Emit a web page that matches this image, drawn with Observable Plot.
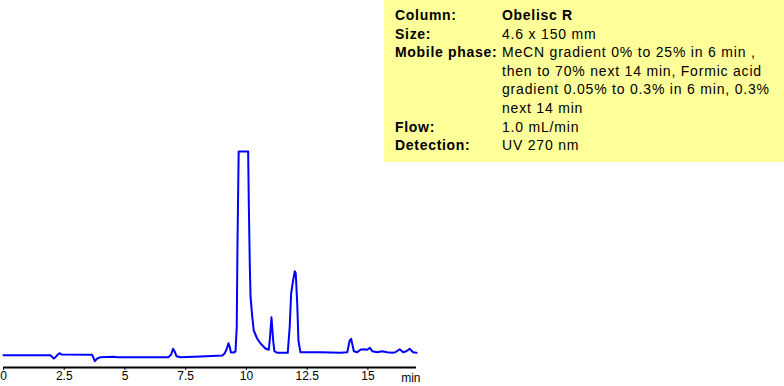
<!DOCTYPE html>
<html><head><meta charset="utf-8">
<script src="https://cdn.jsdelivr.net/npm/d3@7"></script>
<script src="https://cdn.jsdelivr.net/npm/@observablehq/plot@0.6"></script>
<style>
body{margin:0;background:#fff;}
#wrap{position:relative;width:784px;height:386px;font-family:"Liberation Sans",Arial,sans-serif;}
#chart svg{display:block;}
#info{position:absolute;left:384px;top:0;width:400px;height:162px;background:#ffff99;color:#000;}
.row{position:absolute;left:11px;height:18.6px;line-height:18.6px;white-space:nowrap;}
.lab{position:absolute;left:0;font-weight:bold;font-size:14px;letter-spacing:0.7px;}
.val{position:absolute;left:107px;font-size:14px;letter-spacing:0.8px;}
.val.b{font-weight:bold;font-size:14px;letter-spacing:0.7px;}
</style></head>
<body><div id="wrap"><div id="chart"></div><div id="info"></div></div>
<script>
// Retention time (min) and detector signal (arbitrary units)
const times = [0, 1.93, 2.07, 2.14, 2.24, 2.32, 2.39, 3.65, 3.76, 3.86, 3.99, 4.54, 4.68, 6.80, 6.90, 6.98, 7.04, 7.12, 7.29, 8.11, 9.01, 9.10, 9.18, 9.26, 9.32, 9.36, 9.47, 9.55, 9.60, 9.63, 9.68, 10.07, 10.10, 10.14, 10.17, 10.24, 10.30, 10.44, 10.58, 10.78, 10.92, 10.97, 11.03, 11.10, 11.15, 11.27, 11.70, 11.78, 11.84, 11.92, 11.99, 12.03, 12.09, 12.14, 12.22, 13.05, 13.87, 14.15, 14.25, 14.31, 14.37, 14.42, 14.56, 14.69, 14.83, 14.97, 15.08, 15.18, 15.38, 15.59, 15.79, 16.00, 16.13, 16.31, 16.45, 16.58, 16.72, 16.86, 17.00];
const signal = [12.3, 12.3, 9, 10.3, 13, 14.3, 13, 12.7, 6.3, 9, 10.3, 10.7, 10.3, 10.3, 13, 18.7, 16.3, 11.3, 10.3, 11, 12, 14, 18, 24.3, 20, 15, 15, 16, 40, 120, 216, 216, 160.3, 100.3, 70.3, 50.3, 37, 29, 24, 19, 17.7, 30, 50.3, 27, 16.3, 14.7, 14.7, 40.3, 74, 87, 96.3, 94, 64, 27, 15.3, 15.3, 14.7, 15.3, 27, 28.7, 22, 16.3, 15.3, 17.7, 18.3, 17.7, 19.7, 16.3, 15.3, 16.3, 15.3, 14.7, 15.3, 18.3, 15.3, 16.3, 18.7, 15.3, 14.7];
const xTicks = [0, 2.5, 5, 7.5, 10, 12.5, 15];
const xTickLabels = ["0", "2.5", "5", "7.5", "10", "12.5", "15"];
const xUnit = "min";
const infoLabels = ["Column:", "Size:", "Mobile phase:", "Flow:", "Detection:"];
const infoValues = [
  ["Obelisc R"],
  ["4.6 x 150 mm"],
  ["MeCN gradient 0% to 25% in 6 min ,", "then to 70% next 14 min, Formic acid", "gradient 0.05% to 0.3% in 6 min, 0.3%", "next 14 min"],
  ["1.0 mL/min"],
  ["UV 270 nm"]
];

const data = times.map((t, i) => ({t, v: signal[i]}));
const chart = Plot.plot({
  width: 784, height: 386,
  marginLeft: 3, marginRight: 368, marginTop: 151, marginBottom: 19,
  style: {fontFamily: "Liberation Sans, Arial, sans-serif", fontSize: "12px", color: "#000", background: "transparent", overflow: "visible"},
  x: {domain: [0, 17], ticks: xTicks, tickFormat: d => xTickLabels[xTicks.indexOf(d)], tickSize: 3, tickPadding: 1, label: null},
  y: {domain: [0, 216], axis: null},
  marks: [
    Plot.line(data, {x: "t", y: "v", stroke: "#0000ff", strokeWidth: 2}),
    Plot.ruleY([0], {stroke: "#000", strokeWidth: 2}),
    Plot.text([xUnit], {text: d => d, frameAnchor: "bottom-right", dx: 4, dy: 11, lineAnchor: "middle", textAnchor: "end", fontSize: 12, fill: "#000"})
  ]
});
document.getElementById("chart").appendChild(chart);

const info = document.getElementById("info");
let line = 0;
infoLabels.forEach((lab, i) => {
  const vals = infoValues[i];
  vals.forEach((v, j) => {
    const row = document.createElement("div");
    row.className = "row";
    row.style.top = (6 + line * 18.6) + "px";
    if (j === 0) {
      const l = document.createElement("span");
      l.className = "lab"; l.textContent = lab; row.appendChild(l);
    }
    const s = document.createElement("span");
    s.className = "val" + (i === 0 ? " b" : "");
    s.textContent = v; row.appendChild(s);
    info.appendChild(row);
    line++;
  });
});
</script>
</body></html>
